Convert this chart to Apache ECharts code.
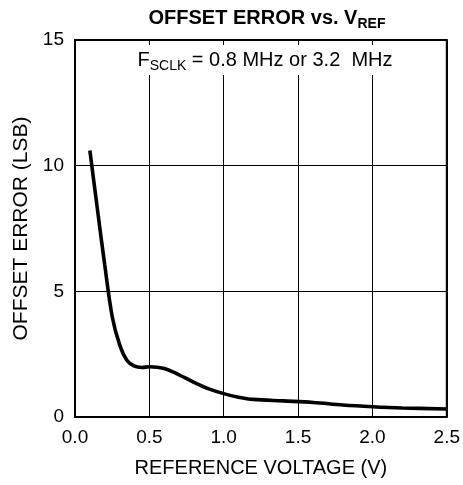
<!DOCTYPE html>
<html>
<head>
<meta charset="utf-8">
<script src="https://cdn.jsdelivr.net/npm/echarts@6/dist/echarts.min.js"></script>
<style>
  html, body { margin: 0; padding: 0; background: #fff; }
  #chart { width: 463px; height: 485px; }
</style>
</head>
<body>
<div id="chart"></div>
<script>
// reference voltage (V) and offset error (LSB)
const voltage = [0.1, 0.15, 0.2, 0.25, 0.3, 0.35, 0.4, 0.45, 0.5, 0.6, 0.7, 0.8, 0.9, 1.0, 1.1, 1.2, 1.4, 1.6, 1.8, 2.0, 2.2, 2.5]
const offsetError = [10.6, 8.3, 6.05, 4.0, 2.88, 2.25, 2.02, 1.97, 2.0, 1.93, 1.68, 1.38, 1.12, 0.93, 0.79, 0.7, 0.64, 0.58, 0.48, 0.41, 0.36, 0.32]

const xTicks = { min: 0, max: 2.5, step: 0.5 }
const yTicks = { min: 0, max: 15, step: 5 }

const font = '"Liberation Sans", Arial, sans-serif'

const chart = echarts.init(document.getElementById('chart'))

const option = {
  backgroundColor: '#fff',
  animation: false,
  title: {
    text: '{b|OFFSET ERROR vs. V}{s|REF}',
    left: 262,
    textAlign: 'center',
    top: 0,
    textStyle: {
      rich: {
        b: { fontFamily: font, fontWeight: 'bold', fontSize: 20, color: '#000', lineHeight: 26 },
        s: { fontFamily: font, fontWeight: 'bold', fontSize: 14, color: '#000', lineHeight: 12, verticalAlign: 'bottom' }
      }
    }
  },
  grid: {
    left: 75,
    right: 15,
    top: 40,
    bottom: 68,
    show: true,
    borderColor: '#000',
    borderWidth: 2,
    backgroundColor: 'transparent'
  },
  xAxis: {
    type: 'value',
    min: xTicks.min,
    max: xTicks.max,
    interval: xTicks.step,
    name: 'REFERENCE VOLTAGE (V)',
    nameLocation: 'middle',
    nameGap: 41,
    nameTextStyle: { fontFamily: font, fontSize: 20, color: '#000', verticalAlign: 'top' },
    axisLine: { show: false },
    axisTick: { show: false },
    axisLabel: {
      fontFamily: font,
      fontSize: 19,
      color: '#000',
      margin: 11,
      formatter: v => v.toFixed(1)
    },
    splitLine: { lineStyle: { color: '#000', width: 1 } }
  },
  yAxis: {
    type: 'value',
    min: yTicks.min,
    max: yTicks.max,
    interval: yTicks.step,
    name: 'OFFSET ERROR (LSB)',
    nameLocation: 'middle',
    nameGap: 43,
    nameTextStyle: { fontFamily: font, fontSize: 21, color: '#000' },
    axisLine: { show: false },
    axisTick: { show: false },
    axisLabel: { fontFamily: font, fontSize: 19, color: '#000', margin: 11 },
    splitLine: { lineStyle: { color: '#000', width: 1 } }
  },
  graphic: [
    {
      type: 'text',
      x: 265,
      y: 60,
      z: 10,
      style: {
        text: '{a|F}{s|SCLK}{a| = 0.8 MHz or 3.2  MHz}',
        align: 'center',
        verticalAlign: 'middle',
        backgroundColor: '#fff',
        padding: [2, 1, 2, 1],
        rich: {
          a: { fontFamily: font, fontSize: 20, fill: '#000', lineHeight: 26 },
          s: { fontFamily: font, fontSize: 14, fill: '#000', lineHeight: 11, verticalAlign: 'bottom' }
        }
      }
    }
  ],
  series: [
    {
      type: 'line',
      data: voltage.map((v, i) => [v, offsetError[i]]),
      smooth: 0.35,
      symbol: 'none',
      lineStyle: { color: '#000', width: 3.6 }
    }
  ]
}

chart.setOption(option)
</script>
</body>
</html>
